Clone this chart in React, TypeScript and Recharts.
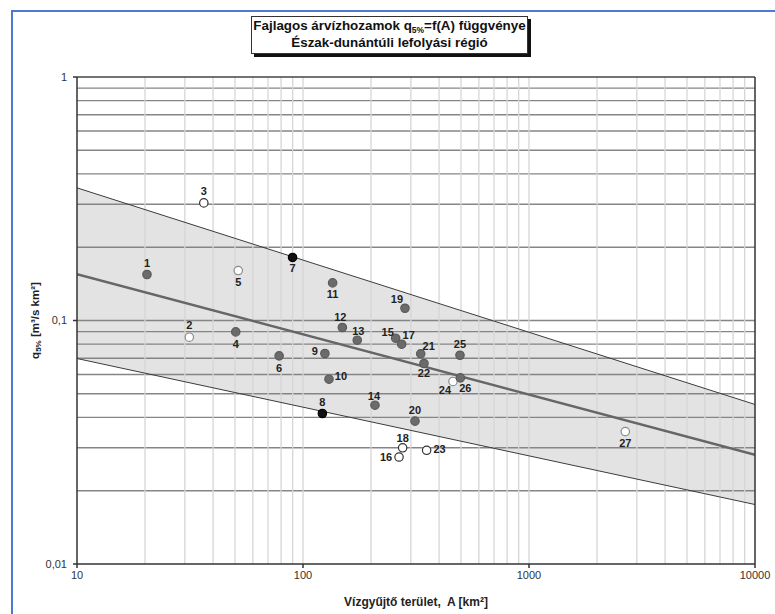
import React from "react"
import {
  Area,
  ComposedChart,
  Line,
  ReferenceLine,
  Scatter,
  XAxis,
  YAxis,
} from "recharts"

// station numbers, catchment areas (km2) and specific flood discharges q5%
const stationIds = [
  1, 2, 3, 4, 5, 6, 7, 8, 9, 10, 11, 12, 13, 14, 15, 16, 17, 18, 19, 20, 21, 22, 23, 24, 25, 26, 27,
]
const areas = [
  20.4, 31.4, 36.4, 50.4, 51.7, 78.4, 89.9, 121.8, 125, 130.3, 135.2, 149.3, 173.8, 208.2, 257, 266,
  273.3, 276, 282.6, 313, 331.8, 343, 352.4, 461, 495, 497, 2667,
]
const qValues = [
  0.1545, 0.0854, 0.304, 0.0898, 0.1604, 0.0716, 0.1815, 0.0415, 0.0732, 0.0574, 0.1427, 0.0936,
  0.083, 0.0449, 0.0846, 0.0275, 0.0799, 0.03, 0.1123, 0.0386, 0.073, 0.0666, 0.0293, 0.0562, 0.072,
  0.0581, 0.035,
]
// g = filled gray, b = filled black, o = open (dark rim), l = open (light rim)
const markerKinds = [
  "g", "l", "o", "g", "l", "g", "b", "b", "g", "g", "g", "g", "g", "g", "g", "o", "g", "o", "g", "g",
  "g", "g", "o", "l", "g", "g", "l",
]

// regression line and envelope, value at A = 10 and A = 10000
const bandAreas = [10, 10000]
const bandLow = [0.0698, 0.01755]
const bandMid = [0.155, 0.0281]
const bandHigh = [0.3505, 0.0452]

const xTicks = [10, 100, 1000, 10000]
const yTicks = [0.01, 0.1, 1]
const gridSteps = [1, 2, 3, 4, 5, 6, 7, 8, 9]

// label offset (dx, dy) of each station number, from the marker centre
const labelOffsets: [number, number][] = [
  [0, -11], [0, -12], [0, -12], [0, 12], [0, 11], [0, 12], [0, 11], [0, -12], [-10, -2], [12, -3],
  [0, 11], [-2, -10], [1, -9], [-1, -9], [-8, -6], [-13, 0], [7, -9], [0, -10], [-8, -9], [0, -11],
  [8, -8], [0, 10], [13, -1], [-8, 9], [0, -11], [5, 10], [0, 11],
]

const bandData = bandAreas.map((A, i) => ({
  A,
  range: [bandLow[i], bandHigh[i]],
  lo: bandLow[i],
  mid: bandMid[i],
  hi: bandHigh[i],
}))

const points = stationIds.map((id, i) => ({
  id,
  A: areas[i],
  q: qValues[i],
  kind: markerKinds[i],
  off: labelOffsets[i],
}))

const xGrid = [10, 100, 1000].flatMap((d) => gridSteps.map((s) => d * s)).filter((v) => v > 10)
const yGrid = [0.01, 0.1].flatMap((d) => gridSteps.map((s) => +(d * s).toFixed(3))).filter((v) => v > 0.01)

const font = "'Liberation Sans', Arial, sans-serif"

const markerStyle: Record<string, { fill: string; stroke: string }> = {
  g: { fill: "#6b6b6b", stroke: "#5a5a5a" },
  b: { fill: "#111111", stroke: "#000000" },
  o: { fill: "#ffffff", stroke: "#333333" },
  l: { fill: "#ffffff", stroke: "#8a8a8a" },
}

const StationMarker = (props: any) => {
  const { cx, cy, payload } = props
  const st = markerStyle[payload.kind]
  const [dx, dy] = payload.off
  return (
    <g>
      <circle cx={cx} cy={cy} r={4.2} fill={st.fill} stroke={st.stroke} strokeWidth={1.2} />
      <text
        x={cx + dx}
        y={cy + dy + 4}
        textAnchor="middle"
        fontSize={11}
        fontWeight="bold"
        fontFamily={font}
        fill="#222"
      >
        {payload.id}
      </text>
    </g>
  )
}

const YTitle = (props: any) => {
  const { viewBox } = props
  const cx = 35
  const cy = viewBox.y + viewBox.height / 2
  return (
    <text
      x={cx}
      y={cy}
      transform={`rotate(-90 ${cx} ${cy})`}
      textAnchor="middle"
      dominantBaseline="central"
      fontSize={11.5}
      fontWeight="bold"
      fontFamily={font}
      fill="#222"
    >
      q<tspan fontSize={8} dy={3}>5%</tspan>
      <tspan dy={-3}> [m³/s km²]</tspan>
    </text>
  )
}

export default function App() {
  return (
    <div style={{ position: "absolute", left: 0, top: 0, width: 775, height: 614, background: "#fff" }}>
      <div
        style={{
          position: "absolute",
          left: 11,
          top: 10,
          width: 800,
          height: 700,
          borderLeft: "2px solid #4a7bd0",
          borderTop: "2px solid #4a7bd0",
        }}
      />
      <ComposedChart
        width={775}
        height={614}
        data={bandData}
        margin={{ top: 77, right: 20, bottom: 0, left: 27 }}
        style={{ position: "absolute", left: 0, top: 0 }}
      >
        {yGrid.map((v) => (
          <ReferenceLine key={"y" + v} y={v} stroke="#858585" strokeWidth={1.4} />
        ))}
        {xGrid.map((v) => (
          <ReferenceLine key={"x" + v} x={v} stroke="#d6d6d6" strokeWidth={1.3} />
        ))}
        <XAxis
          dataKey="A"
          type="number"
          scale="log"
          domain={[10, 10000]}
          ticks={xTicks}
          allowDataOverflow
          height={50}
          tickSize={4}
          tickMargin={3}
          stroke="#333"
          strokeWidth={1.5}
          tick={{ fontSize: 11, fill: "#333", fontFamily: font }}
          label={{
            value: "Vízgyűjtő terület,\u00a0 A [km²]",
            position: "insideBottom",
            offset: 8,
            fontSize: 12,
            fontWeight: "bold",
            fontFamily: font,
            fill: "#222",
          }}
        />
        <YAxis
          type="number"
          scale="log"
          domain={[0.01, 1]}
          ticks={yTicks}
          allowDataOverflow
          width={50}
          tickSize={4}
          tickMargin={6}
          stroke="#333"
          strokeWidth={1.5}
          tickFormatter={(v: number) => String(v).replace(".", ",")}
          tick={{ fontSize: 11, fill: "#333", fontFamily: font }}
          label={<YTitle />}
        />
        <Area
          dataKey="range"
          type="linear"
          fill="#dedede"
          fillOpacity={0.85}
          stroke="none"
          isAnimationActive={false}
        />
        <Line dataKey="hi" type="linear" stroke="#3c3c3c" strokeWidth={1} dot={false} isAnimationActive={false} />
        <Line dataKey="lo" type="linear" stroke="#3c3c3c" strokeWidth={1} dot={false} isAnimationActive={false} />
        <Line dataKey="mid" type="linear" stroke="#666" strokeWidth={2.5} dot={false} isAnimationActive={false} />
        <ReferenceLine y={1} stroke="#444" strokeWidth={1.5} />
        <ReferenceLine x={10000} stroke="#333" strokeWidth={1.5} />
        <Scatter data={points} dataKey="q" shape={<StationMarker />} isAnimationActive={false} />
      </ComposedChart>
      <div
        style={{
          position: "absolute",
          left: 251,
          top: 16,
          width: 277,
          height: 38,
          border: "1px solid #333",
          boxShadow: "3px 3px 0 #111",
          background: "#fff",
          fontFamily: font,
          fontWeight: "bold",
          fontSize: 13.4,
          textAlign: "center",
          color: "#111",
          boxSizing: "border-box",
          whiteSpace: "nowrap",
        }}
      >
        <div style={{ height: 17, lineHeight: "17px" }}>
          Fajlagos árvízhozamok q
          <span style={{ fontSize: 8.5, position: "relative", top: 3, lineHeight: 0 }}>5%</span>
          =f(A) függvénye
        </div>
        <div style={{ height: 17, lineHeight: "17px" }}>Észak-dunántúli lefolyási régió</div>
      </div>
    </div>
  )
}
